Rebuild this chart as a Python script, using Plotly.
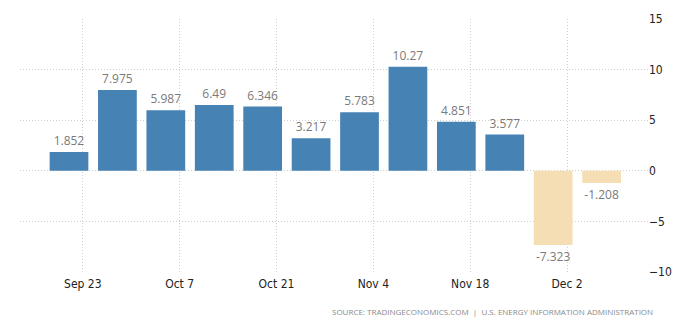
import plotly.graph_objects as go

# Weekly change in US crude oil inventories (million barrels)
weeks = ["2018-09-21", "2018-09-28", "2018-10-05", "2018-10-12", "2018-10-19",
         "2018-10-26", "2018-11-02", "2018-11-09", "2018-11-16", "2018-11-23",
         "2018-11-30", "2018-12-07"]
changes = [1.852, 7.975, 5.987, 6.49, 6.346, 3.217, 5.783, 10.27, 4.851, 3.577,
           -7.323, -1.208]
labels = ["1.852", "7.975", "5.987", "6.49", "6.346", "3.217", "5.783", "10.27",
          "4.851", "3.577", "-7.323", "-1.208"]
y_ticks = [-10, -5, 0, 5, 10, 15]

POS_COLOR = "#4682b4"
NEG_COLOR = "#f5deb3"
bar_colors = [POS_COLOR if v >= 0 else NEG_COLOR for v in changes]

DAY_MS = 86400000
GRID = dict(showgrid=True, gridcolor="#cfcfcf", griddash="1px,2px", gridwidth=1,
            zeroline=False, showline=False, ticks="")

fig = go.Figure(
    go.Bar(
        x=weeks,
        y=changes,
        width=5.6 * DAY_MS,
        marker=dict(color=bar_colors, line=dict(width=0)),
        text=labels,
        textposition="outside",
        textfont=dict(color="#7a7a7a", size=12, family="Open Sans"),
        cliponaxis=False,
        hoverinfo="x+y",
    )
)

fig.update_layout(
    width=700,
    height=326,
    margin=dict(l=20, r=52, t=19, b=54),
    plot_bgcolor="white",
    paper_bgcolor="white",
    showlegend=False,
    font=dict(family="Open Sans", color="#333333"),
    xaxis=dict(
        type="date",
        range=["2018-09-13 22:00", "2018-12-13 17:00"],
        tick0="2018-09-23",
        dtick=14 * DAY_MS,
        tickformat="%b %-d",
        ticklabelstandoff=3,
        tickfont=dict(size=12, color="#222222", family="DejaVu Sans Condensed, DejaVu Sans"),
        **GRID,
    ),
    yaxis=dict(
        side="right",
        range=[-10, 15],
        tickvals=y_ticks,
        tickfont=dict(size=12, color="#222222", family="DejaVu Sans Condensed, DejaVu Sans"),
        **GRID,
    ),
    annotations=[
        dict(
            text="SOURCE: TRADINGECONOMICS.COM  |  U.S. ENERGY INFORMATION ADMINISTRATION",
            xref="paper",
            yref="paper",
            x=1.011,
            y=-0.158,
            xanchor="right",
            yanchor="middle",
            showarrow=False,
            font=dict(size=8, color="#8a8a8a", family="Open Sans"),
        )
    ],
)

fig.write_html("out.html")
